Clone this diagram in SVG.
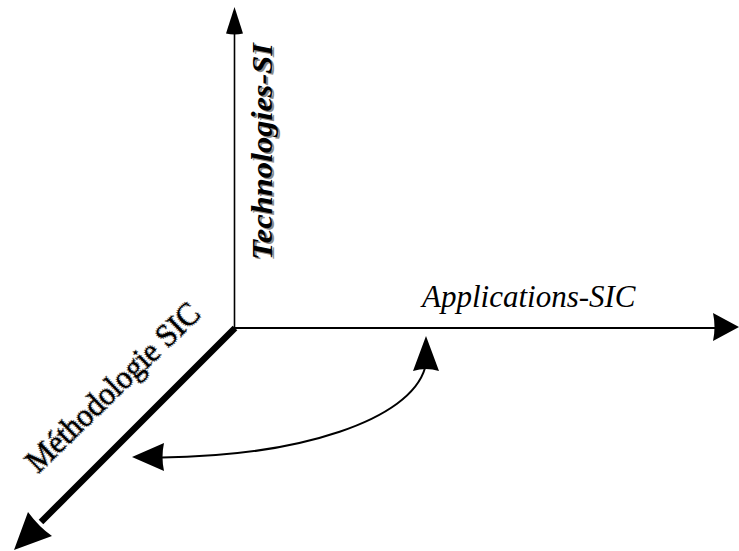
<svg xmlns="http://www.w3.org/2000/svg" width="739" height="551" viewBox="0 0 739 551">
  <style>
    .lbl { font-family: "Liberation Serif", "Times New Roman", serif; fill: #000; }
    .shadow { fill: #8a8a8a; }
    .halo { fill: none; stroke: #666; stroke-width: 2.5; stroke-dasharray: 1 1.2; }
    .head { fill: #000; stroke: none; }
  </style>
  <rect x="0" y="0" width="739" height="551" fill="#fff"/>
  <g id="connectors">
    <g id="axis-technologies">
      <line x1="234.5" y1="32" x2="234.5" y2="328.5" stroke="#000" stroke-width="1.6"/>
      <path class="head" d="M234.5,7 L243,33.5 Q234.5,35.5 226,33.5 Z"/>
    </g>
    <g id="axis-applications">
      <line x1="234" y1="328" x2="715" y2="328" stroke="#000" stroke-width="2.2"/>
      <path class="head" d="M739,327 L713,341 Q716,327 713,313 Z"/>
    </g>
    <g id="axis-methodologie">
      <line x1="235" y1="328" x2="41" y2="522" stroke="#000" stroke-width="6.5"/>
      <path class="head" d="M14,550 L28,512 Q39,527 52,536 Z"/>
    </g>
    <g id="relation-curve">
      <path d="M425,368 C410,420 300,456 162,457.5" fill="none" stroke="#000" stroke-width="2"/>
      <path class="head" d="M426,336 L439,371 Q426,367 413,371 Z"/>
      <path class="head" d="M132,457 L164,443 Q161,457 164,471 Z"/>
    </g>
  </g>
  <g id="label-technologies">
    <text class="lbl shadow" transform="translate(273.5,261.5) rotate(-90)" font-size="29" font-weight="bold" font-style="italic" textLength="217" lengthAdjust="spacingAndGlyphs">Technologies-SI</text>
    <text class="lbl" transform="translate(272,260) rotate(-90)" font-size="29" font-weight="bold" font-style="italic" textLength="217" lengthAdjust="spacingAndGlyphs">Technologies-SI</text>
  </g>
  <g id="label-applications">
    <text class="lbl" x="422" y="307" font-size="31" font-style="italic">Applications-SIC</text>
  </g>
  <g id="label-methodologie">
    <text class="lbl halo" transform="translate(38,474) rotate(-44)" font-size="32" textLength="228" lengthAdjust="spacingAndGlyphs">Méthodologie SIC</text>
    <text class="lbl" transform="translate(38,474) rotate(-44)" font-size="32" textLength="228" lengthAdjust="spacingAndGlyphs">Méthodologie SIC</text>
  </g>
</svg>
